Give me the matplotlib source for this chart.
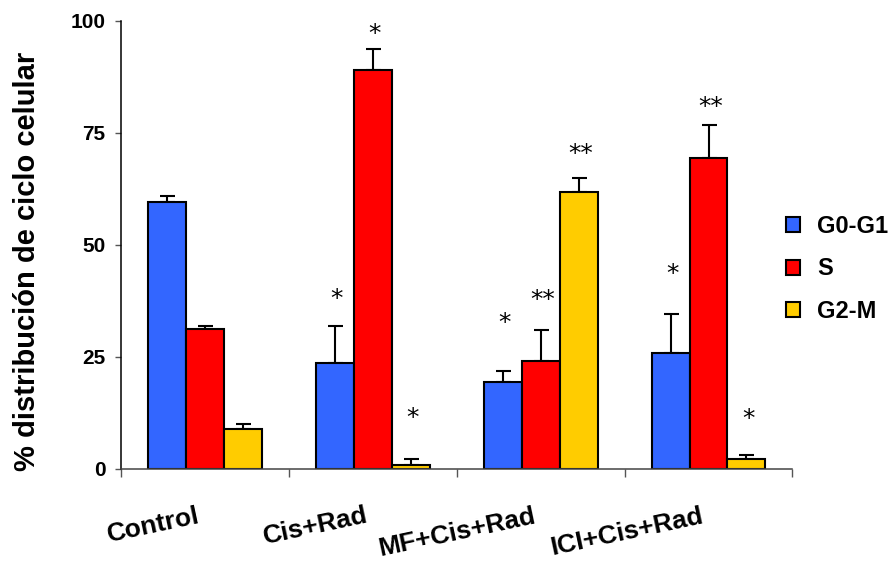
import matplotlib.pyplot as plt
import matplotlib.transforms as mtransforms
from matplotlib.patches import Patch
import numpy as np

plt.rcParams['font.family'] = ['Liberation Sans', 'DejaVu Sans']

# data
groups = ['Control', 'Cis+Rad', 'MF+Cis+Rad', 'ICI+Cis+Rad']
phases = ['G0-G1', 'S', 'G2-M']
colors = ['#3366FF', '#FF0000', '#FFCC00']

g0g1 = [59.6, 23.6, 19.5, 25.9]
s_phase = [31.3, 89.1, 24.1, 69.4]
g2m = [9.0, 0.9, 61.8, 2.2]

g0g1_err = [1.3, 8.2, 2.4, 8.7]
s_err = [0.6, 4.5, 6.8, 7.3]
g2m_err = [1.0, 1.3, 3.2, 0.9]

# significance marks and the height where they are written
g0g1_stars = ['', '*', '*', '*']
s_stars = ['', '*', '**', '**']
g2m_stars = ['', '*', '**', '*']
g0g1_star_y = [0, 38.0, 32.6, 43.4]
s_star_y = [0, 97.0, 37.8, 80.7]
g2m_star_y = [0, 11.4, 70.2, 11.1]

values = [g0g1, s_phase, g2m]
errors = [g0g1_err, s_err, g2m_err]
stars = [g0g1_stars, s_stars, g2m_stars]
star_y = [g0g1_star_y, s_star_y, g2m_star_y]

fig = plt.figure(figsize=(8.96, 5.66), dpi=100)
ax = fig.add_axes([0.1354, 0.1714, 0.749, 0.792])

x = np.arange(len(groups))
w = 0.226

for k in range(3):
    pos = x + (k - 1) * w
    ax.bar(pos, values[k], w, color=colors[k], edgecolor='black', linewidth=1.5,
           label=phases[k], zorder=2)
    ax.errorbar(pos, values[k], yerr=[np.zeros(len(groups)), errors[k]], fmt='none',
                ecolor='black', elinewidth=1.5, capsize=5.4, capthick=1.5, zorder=1)
    for i in range(len(groups)):
        if stars[k][i]:
            ax.text(pos[i] + 0.01, star_y[k][i], stars[k][i], ha='center', va='center',
                    fontsize=18, family='DejaVu Sans')

ax.set_xlim(-0.5, len(groups) - 0.5)
ax.set_ylim(0, 100)
ax.set_yticks([0, 25, 50, 75, 100])
ax.tick_params(axis='y', length=4.5, width=1, pad=7, labelsize=15, color='#555555')
for lab in ax.get_yticklabels():
    lab.set_fontweight('bold')

ax.set_xticks(x)
ax.set_xticklabels(groups, rotation=12, ha='right', rotation_mode='anchor',
                   fontsize=19, fontweight='bold')
ax.set_xticks(np.arange(-0.5, len(groups), 1), minor=True)
ax.tick_params(axis='x', which='major', length=0, pad=25)
ax.tick_params(axis='x', which='minor', length=6, width=1, color='#555555')
shift = mtransforms.ScaledTranslation(-8 / 100, 0, fig.dpi_scale_trans)
for lab in ax.get_xticklabels():
    lab.set_transform(lab.get_transform() + shift)

ax.spines['top'].set_visible(False)
ax.spines['right'].set_visible(False)
ax.spines['left'].set_linewidth(1.1)
ax.spines['bottom'].set_linewidth(1.1)
ax.spines['bottom'].set_color('#444444')

ax.set_ylabel('% distribución de ciclo celular', fontsize=21, fontweight='bold')
ax.yaxis.set_label_coords(-0.119, 0.464)

handles = [Patch(facecolor=c, edgecolor='black', linewidth=1.5) for c in colors]
leg = fig.legend(handles, phases, loc='center left', bbox_to_anchor=(0.8667, 0.525),
                 borderaxespad=0, frameon=False, handlelength=0.6, handleheight=0.6,
                 handletextpad=0.72, labelspacing=0.83,
                 prop={'weight': 'bold', 'size': 17})

fig.savefig('out.png', dpi=100)
